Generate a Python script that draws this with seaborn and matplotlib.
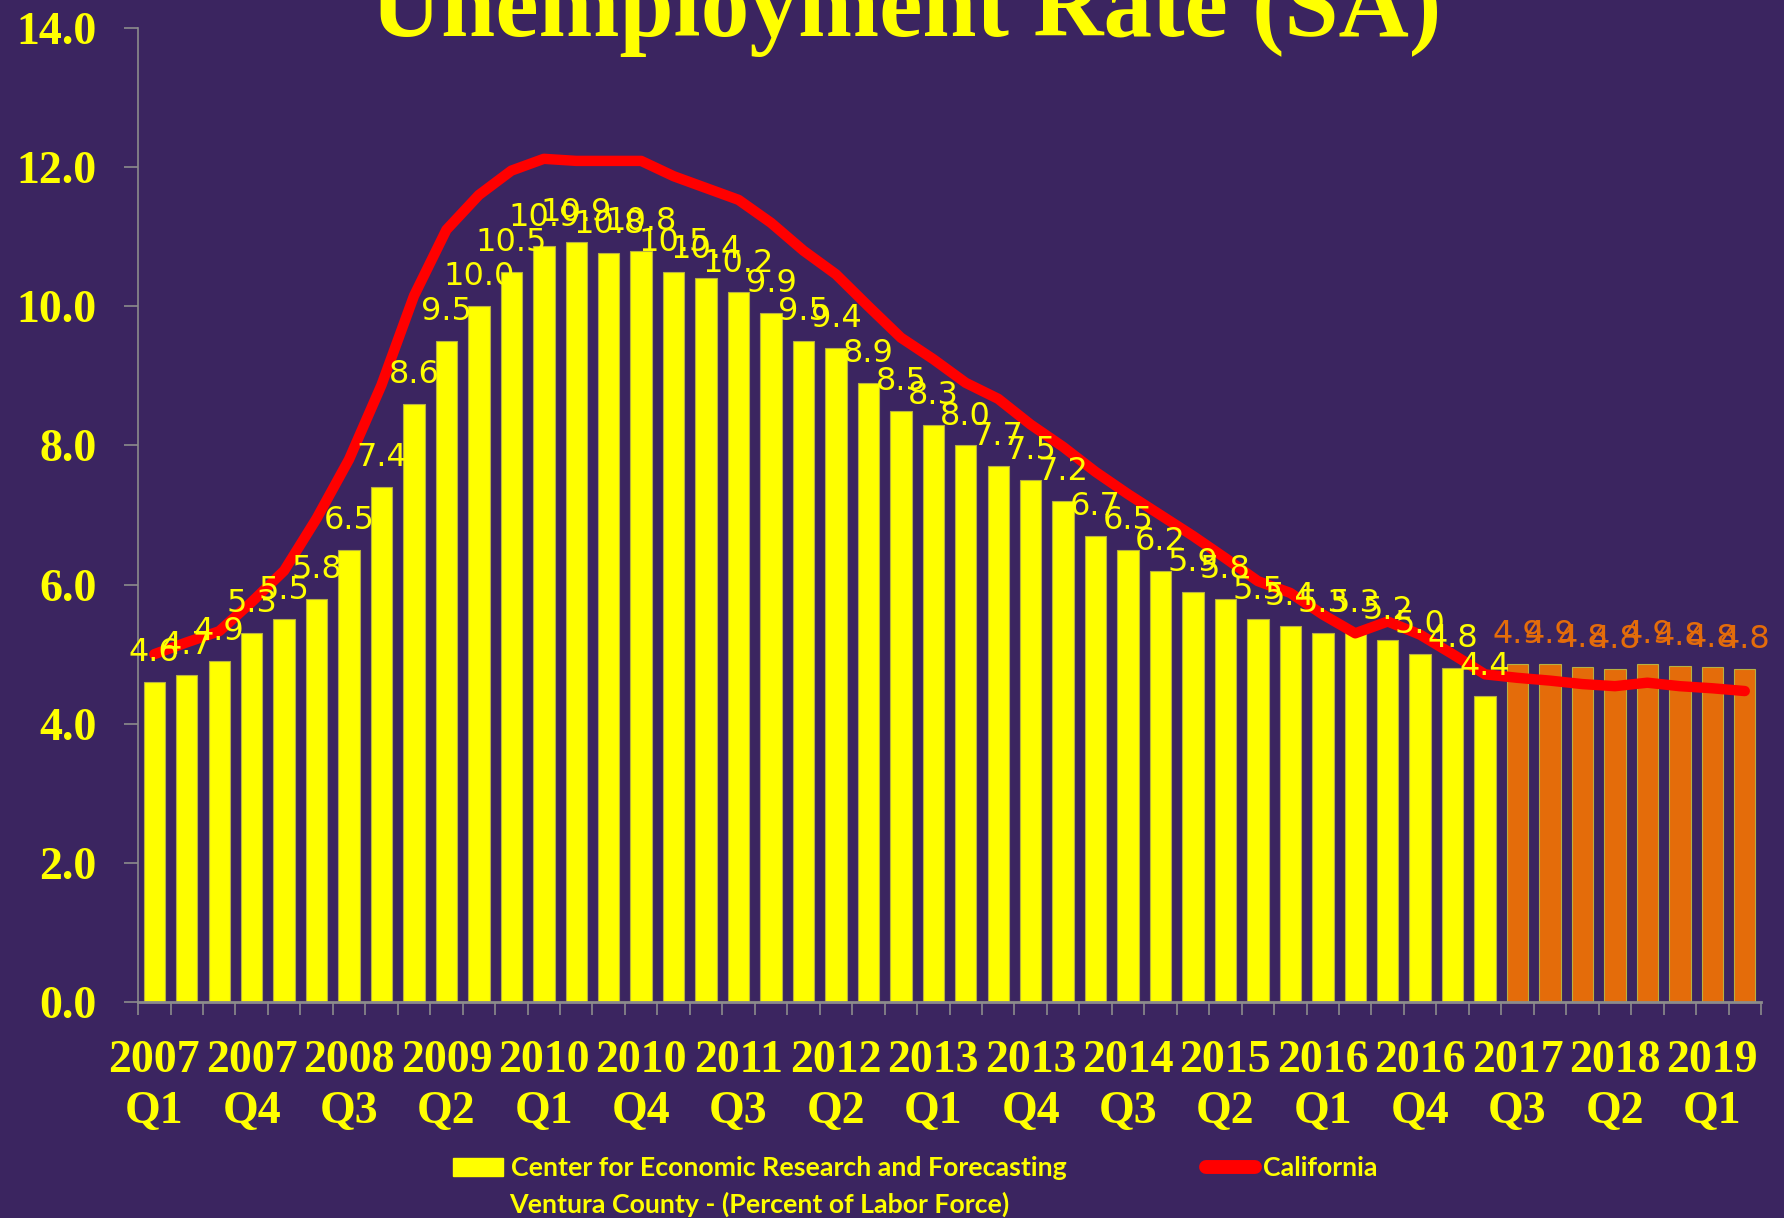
import matplotlib

matplotlib.use("Agg")

import matplotlib.pyplot as plt
import numpy as np
import pandas as pd
import seaborn as sns
from matplotlib.lines import Line2D
from matplotlib.patches import Patch

# ── Data ──────────────────────────────────────────────────────────────────────
quarters = [f"{y}\nQ{q}" for y in range(2007, 2020) for q in range(1, 5)][:50]

ventura_actual = [
    4.6, 4.7, 4.9, 5.3, 5.5, 5.8, 6.5, 7.4, 8.6, 9.5,
    10.0, 10.5, 10.86, 10.93, 10.76, 10.8, 10.5, 10.4, 10.2, 9.9,
    9.5, 9.4, 8.9, 8.5, 8.3, 8.0, 7.7, 7.5, 7.2, 6.7,
    6.5, 6.2, 5.9, 5.8, 5.5, 5.4, 5.3, 5.3, 5.2, 5.0,
    4.8, 4.4,
]
ventura_forecast = [4.86, 4.86, 4.81, 4.79, 4.86, 4.83, 4.81, 4.79]

california = [
    5.0, 5.17, 5.33, 5.75, 6.2, 6.95, 7.8, 8.87, 10.15, 11.1,
    11.6, 11.95, 12.12, 12.09, 12.09, 12.09, 11.87, 11.7, 11.53, 11.2,
    10.8, 10.46, 10.0, 9.55, 9.24, 8.9, 8.67, 8.3, 7.98, 7.62,
    7.3, 7.0, 6.7, 6.38, 6.05, 5.88, 5.57, 5.3, 5.47, 5.28,
    5.0, 4.71, 4.66, 4.62, 4.57, 4.54, 4.59, 4.54, 4.51, 4.47,
]

y_ticks = [0, 2, 4, 6, 8, 10, 12, 14]
label_every = 3

title = "Unemployment Rate (SA)"
legend_bar_line1 = "Center for Economic Research and Forecasting"
legend_bar_line2 = "Ventura County - (Percent of Labor Force)"
legend_line = "California"

# ── Styling ───────────────────────────────────────────────────────────────────
_BG = "#3b2560"
_YELLOW = "#ffff00"
_ORANGE = "#e46c0a"
_RED = "#ff0000"
_GRAY = "#8c8c8c"
_SERIF = "Liberation Serif"
_LEGEND_FONT = "Lato"

df = pd.DataFrame(
    {
        "quarter": quarters,
        "rate": ventura_actual + ventura_forecast,
        "kind": ["Actual"] * len(ventura_actual) + ["Forecast"] * len(ventura_forecast),
    }
)

sns.set_theme(style="white")
plt.rcParams["font.family"] = ["DejaVu Sans"]

fig = plt.figure(figsize=(17.84, 12.18), dpi=100, facecolor=_BG)
ax = fig.add_axes([0.0774, 0.1773, 0.9097, 0.7997])
ax.set_facecolor(_BG)

sns.barplot(
    data=df,
    x="quarter",
    y="rate",
    hue="kind",
    palette={"Actual": _YELLOW, "Forecast": _ORANGE},
    dodge=False,
    width=0.66,
    legend=False,
    saturation=1,
    linewidth=0.8,
    edgecolor="#b8b040",
    ax=ax,
)

# California line on top of the bars
sns.lineplot(
    x=np.arange(len(california)),
    y=california,
    color=_RED,
    linewidth=7.5,
    solid_capstyle="round",
    solid_joinstyle="round",
    zorder=4,
    ax=ax,
)

for container, col in zip(ax.containers, [_YELLOW, _ORANGE]):
    ax.bar_label(container, fmt="%.1f", padding=10, fontsize=23, color=col, zorder=5)

# ── Axes ──────────────────────────────────────────────────────────────────────
ax.set_xlim(-0.5, len(quarters) - 0.5)
ax.set_ylim(y_ticks[0], y_ticks[-1])
ax.set_yticks(y_ticks)
ax.set_yticklabels([f"{t:.1f}" for t in y_ticks])
ax.set_xticks(range(0, len(quarters), label_every))
ax.set_xticklabels(quarters[::label_every])
ax.set_xticks(np.arange(-0.5, len(quarters), 1), minor=True)
ax.set_xlabel("")
ax.set_ylabel("")

for lab in ax.get_xticklabels() + ax.get_yticklabels():
    lab.set_fontfamily(_SERIF)
    lab.set_fontweight("bold")
    lab.set_fontsize(33)
    lab.set_color(_YELLOW)
for lab in ax.get_xticklabels():
    lab.set_linespacing(1.3)

ax.tick_params(axis="y", which="major", direction="out", length=10, width=1.2, color=_GRAY, pad=20, left=True)
ax.tick_params(axis="x", which="major", length=0, pad=27, bottom=True)
ax.tick_params(axis="x", which="minor", direction="out", length=9.5, width=1.2, color=_GRAY, bottom=True)

sns.despine(ax=ax, top=True, right=True)
for side in ("left", "bottom"):
    ax.spines[side].set_color(_GRAY)
ax.spines["left"].set_linewidth(1.2)
ax.spines["bottom"].set_linewidth(2)
ax.grid(False)

# ── Title (clipped by the top edge, as in the source) ─────────────────────────
fig.text(
    0.508, 1 - 36 / 1218, title,
    ha="center", va="baseline",
    fontsize=70, fontweight="bold", family=_SERIF, color=_YELLOW,
)

# ── Legend ────────────────────────────────────────────────────────────────────
handles = [
    Patch(facecolor=_YELLOW, edgecolor=_YELLOW),
    Line2D([0], [0], color=_RED, linewidth=10, solid_capstyle="round"),
]
leg = fig.legend(
    handles,
    [legend_bar_line1, legend_line],
    loc="upper left",
    bbox_to_anchor=(453 / 1784, 1 - 1156 / 1218),
    ncol=2,
    frameon=False,
    prop={"family": _LEGEND_FONT, "weight": "bold", "size": 19.3},
    labelcolor=_YELLOW,
    handlelength=1.85,
    handleheight=0.65,
    handletextpad=0.3,
    columnspacing=5.2,
    borderpad=0,
    borderaxespad=0,
)
fig.text(
    509 / 1784, 1 - 1204 / 1218, legend_bar_line2,
    ha="left", va="center",
    fontsize=19.3, fontweight="bold", family=_LEGEND_FONT, color=_YELLOW,
)

fig.savefig("out.png", dpi=100, facecolor=_BG)
plt.close(fig)
